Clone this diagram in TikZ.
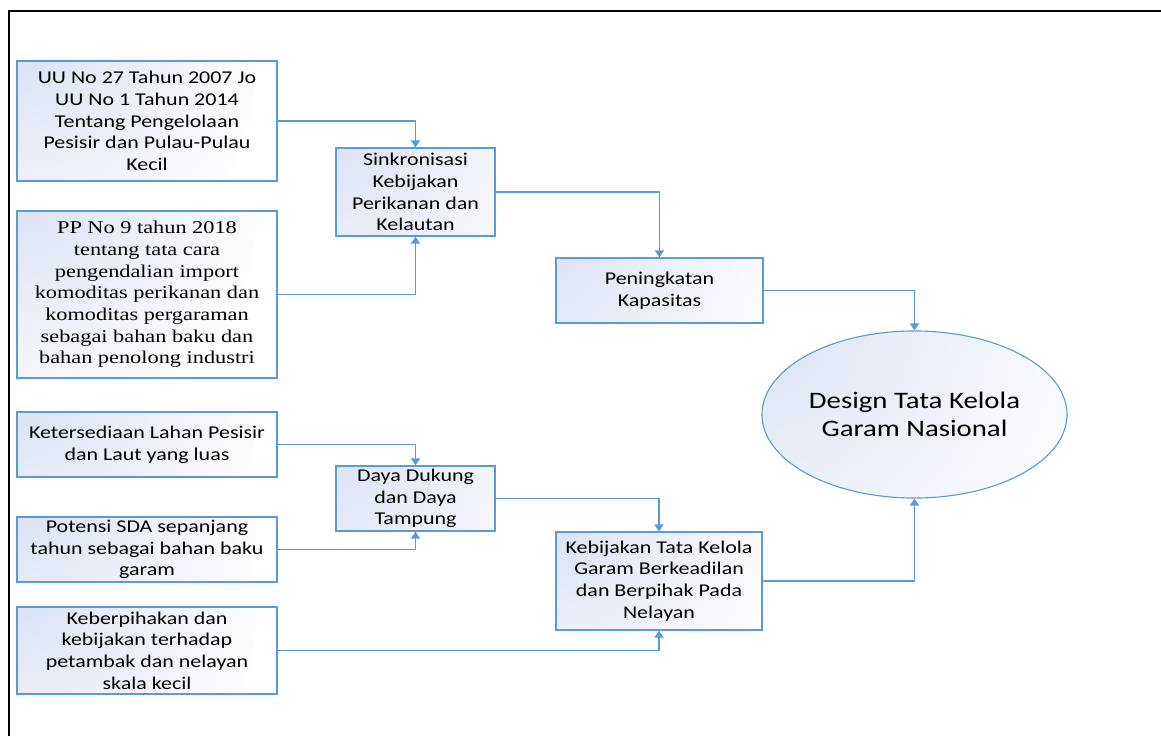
\documentclass[tikz,border=0pt]{standalone}
\usepackage{fontspec}
\setmainfont[FakeStretch=1.22]{Carlito}
\newfontfamily\ppfont[FakeStretch=1.24]{Liberation Serif}
\usetikzlibrary{arrows.meta,shapes.geometric}

\definecolor{edgeblue}{RGB}{91,155,213}
\definecolor{fillblue}{RGB}{220,227,243}

\begin{document}
\begin{tikzpicture}[x=0.025cm, y=0.025cm,
    cornerglow/.style={fill=white, path picture={
        \shade[inner color=fillblue, outer color=white]
            (path picture bounding box.north west) circle (#1);}},
    box/.style={draw=edgeblue, line width=0.9pt, cornerglow=6cm, align=center, inner sep=1pt,
        font=\fontsize{12.8}{15.4}\selectfont},
    goalshape/.style={ellipse, draw=edgeblue, line width=0.8pt, cornerglow=9cm,
        align=center, inner sep=0pt,
        minimum width=7.625cm, minimum height=4.175cm,
        font=\fontsize{16.8}{20}\selectfont},
    link/.style={draw=edgeblue, line width=1pt, -{Triangle[length=5pt, width=6.5pt]}}]

    % Fix the size of the page
    \useasboundingbox (0,0) rectangle (1161,-736);

    % Draw the frame (only its top and left sides show)
    \draw[line width=1.6pt] (9,-736) -- (9,-11) -- (1161,-11);

    % Draw the sources on the left
    \node[box, minimum width=6.5cm, minimum height=3cm] (uu) at (147,-121)
        {UU No 27 Tahun 2007 Jo\\UU No 1 Tahun 2014\\Tentang Pengelolaan\\Pesisir dan Pulau-Pulau\\Kecil};
    \node[box, minimum width=6.5cm, minimum height=4.175cm, font=\ppfont\fontsize{12.8}{15.4}\selectfont] (pp) at (147,-294.5)
        {PP No 9 tahun 2018\\tentang tata cara\\pengendalian import\\komoditas perikanan dan\\komoditas pergaraman\\sebagai bahan baku dan\\bahan penolong industri};
    \node[box, minimum width=6.5cm, minimum height=1.625cm] (lahan) at (147,-444.5)
        {Ketersediaan Lahan Pesisir\\dan Laut yang luas};
    \node[box, minimum width=6.5cm, minimum height=1.625cm] (sda) at (147,-549.5)
        {Potensi SDA sepanjang\\tahun sebagai bahan baku\\garam};
    \node[box, minimum width=6.5cm, minimum height=2.175cm] (pihak) at (147,-650.5)
        {Keberpihakan dan\\kebijakan terhadap\\petambak dan nelayan\\skala kecil};

    % Draw the middle boxes
    \node[box, minimum width=3.975cm, minimum height=2.2cm] (sinkron) at (415.5,-192)
        {Sinkronisasi\\Kebijakan\\Perikanan dan\\Kelautan};
    \node[box, minimum width=3.975cm, minimum height=1.625cm] (daya) at (415.5,-498.5)
        {Daya Dukung\\dan Daya\\Tampung};
    \node[box, minimum width=5.175cm, minimum height=1.625cm] (kapasitas) at (659.5,-290.5)
        {Peningkatan\\Kapasitas};
    \node[box, minimum width=5.15cm, minimum height=2.45cm] (adil) at (659,-581)
        {Kebijakan Tata Kelola\\Garam Berkeadilan\\dan Berpihak Pada\\Nelayan};

    % Draw the goal
    \node[goalshape] (goal) at (914.5,-414.5) {Design Tata Kelola\\Garam Nasional};

    % Draw the connectors
    \draw[link] (uu.east) -| (sinkron.north);
    \draw[link] (pp.east) -| (sinkron.south);
    \draw[link] (sinkron.east) -| (kapasitas.north);
    \draw[link] (kapasitas.east) -| (goal.north);
    \draw[link] (lahan.east) -| (daya.north);
    \draw[link] (sda.east) -| (daya.south);
    \draw[link] (daya.east) -| (adil.north);
    \draw[link] (pihak.east) -| (adil.south);
    \draw[link] (adil.east) -| (goal.south);

\end{tikzpicture}
\end{document}
